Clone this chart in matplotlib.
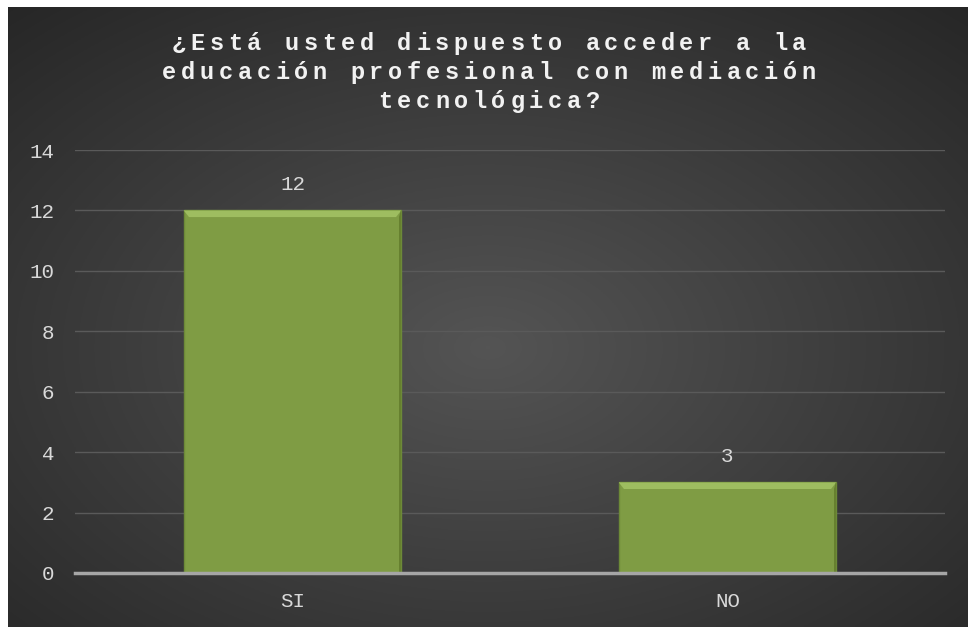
import numpy as np
import matplotlib.pyplot as plt
from matplotlib.patches import Polygon

categorias = ["SI", "NO"]
valores = [12, 3]
ticks_y = [0, 2, 4, 6, 8, 10, 12, 14]
titulo = ["¿Está usted dispuesto acceder a la",
          "educación profesional con mediación",
          "tecnológica?"]

W, H = 968, 627
fig = plt.figure(figsize=(W / 100, H / 100), dpi=100)
fig.patch.set_facecolor("white")

# fondo con degradado radial
bg = fig.add_axes([8 / W, 0, 1 - 8 / W, 1 - 7 / H])
yy, xx = np.mgrid[0:1:300j, 0:1:450j]
r = np.sqrt(((xx - 0.5) / 0.75) ** 2 + ((yy - 0.45) / 0.75) ** 2)
r = np.clip(r, 0, 1)
c0, c1 = 0.33, 0.15
img = c0 + (c1 - c0) * r
bg.imshow(np.dstack([img, img, img]), aspect="auto", extent=[0, 1, 0, 1], origin="lower")
bg.set_axis_off()

ax = fig.add_axes([75 / W, (H - 573) / H, 870 / W, (573 - 150) / H])
ax.patch.set_alpha(0)
x = np.arange(len(categorias))
barras = ax.bar(x, valores, width=0.5, color="#7f9c44", edgecolor="#6d8a38", linewidth=1, zorder=3)

# biselado simple
for b in barras:
    x0, y0 = b.get_x(), b.get_y()
    w, h = b.get_width(), b.get_height()
    dx, dy = 0.012, 0.22
    ax.add_patch(Polygon([[x0, y0 + h], [x0 + w, y0 + h], [x0 + w - dx, y0 + h - dy], [x0 + dx, y0 + h - dy]],
                         closed=True, facecolor="#9ebd60", edgecolor="none", zorder=4))
    ax.add_patch(Polygon([[x0 + w, y0 + h], [x0 + w, y0], [x0 + w - 0.006, y0], [x0 + w - 0.006, y0 + h - dy]],
                         closed=True, facecolor="#66802f", edgecolor="none", zorder=4))

mono = "Liberation Mono"
gris = "#d9d9d9"
for xi, v in zip(x, valores):
    ax.text(xi, v + 0.55, str(v), ha="center", va="bottom", fontsize=15, color=gris, family=mono, zorder=5)

ax.set_xlim(-0.5, 1.5)
ax.set_ylim(0, 14)
ax.set_yticks(ticks_y)
ax.set_yticklabels([str(t) for t in ticks_y], family=mono, fontsize=15, color=gris)
ax.set_xticks(x)
ax.set_xticklabels(categorias, family=mono, fontsize=15, color=gris)
ax.tick_params(axis="y", length=0, pad=15)
ax.tick_params(axis="x", length=0, pad=14)
ax.grid(axis="y", color="#5a5a5a", linewidth=1, zorder=0)
for s in ["top", "right", "left"]:
    ax.spines[s].set_visible(False)
ax.spines["bottom"].set_color("#a6a6a6")
ax.spines["bottom"].set_linewidth(2.5)
ax.spines["bottom"].set_zorder(6)

# título con espaciado ancho entre letras
adv = 18.8
base_y = [50, 79, 108]
for linea, by in zip(titulo, base_y):
    n = len(linea)
    inicio = 489 - n * adv / 2
    for i, ch in enumerate(linea):
        fig.text((inicio + (i + 0.5) * adv) / W, 1 - by / H, ch, ha="center", va="baseline",
                 fontsize=17, fontweight="bold", family=mono, color="#f2f2f2")

fig.savefig("out.png", dpi=100, facecolor=fig.get_facecolor())
